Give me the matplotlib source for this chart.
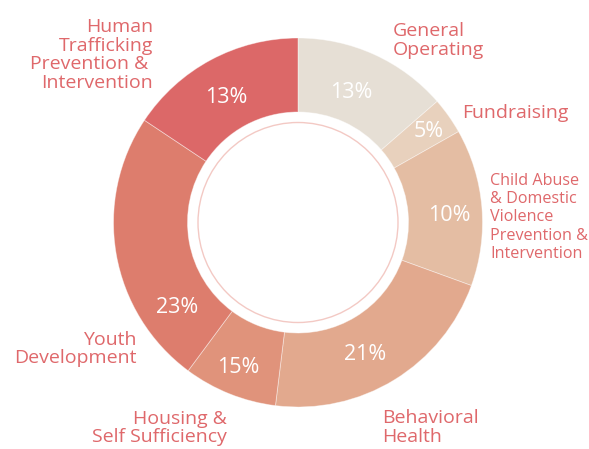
import numpy as np
import matplotlib
matplotlib.use("Agg")
import matplotlib.pyplot as plt
from matplotlib.patches import Circle

# ---- data ----
categories = [
    "General\nOperating",
    "Fundraising",
    "Child Abuse\n& Domestic\nViolence\nPrevention &\nIntervention",
    "Behavioral\nHealth",
    "Housing &\nSelf Sufficiency",
    "Youth\nDevelopment",
    "Human\nTrafficking\nPrevention & \nIntervention",
]
# slice sizes as drawn (share of the ring, %)
shares = [13.6, 3.2, 13.75, 21.4, 8.2, 24.2, 15.65]
# percentages as printed on the slices
pct_labels = ["13%", "5%", "10%", "21%", "15%", "23%", "13%"]
colors = ["#e6dfd5", "#e8d1bd", "#e4bda3", "#e2a98e", "#e0937b", "#dd7d6d", "#dc6868"]

# ---- layout ----
W, H = 589, 449
CX, CY, R = 298, 222.5, 184.5   # pixel centre / radius
INNER = 110.5 / R
RING = 100 / R

def px(x, y):
    return (x - CX) / R, (CY - y) / R

plt.rcParams["font.family"] = ["Open Sans", "DejaVu Sans"]
fig = plt.figure(figsize=(W / 100, H / 100), dpi=100)
ax = fig.add_axes([0, 0, 1, 1])

wedges, _ = ax.pie(
    shares, colors=colors, startangle=90, counterclock=False, radius=1,
    wedgeprops=dict(width=1 - INNER, edgecolor=(1, 1, 1, 0.45), linewidth=0.6),
)
ax.set_xlim(-CX / R, (W - CX) / R)
ax.set_ylim(-(H - CY) / R, CY / R)
ax.set_aspect("equal")
ax.axis("off")

ax.add_patch(Circle((0, 0), RING, fill=False, edgecolor="#f3c9c4", linewidth=1.0))

# percent labels: at wedge mid-angle, with per-label radius / angle nudge
pct_r = [0.76, 0.86, 0.82, 0.80, 0.85, 0.80, 0.78]
pct_da = [2.3, -0.5, -2.0, -4.5, -0.5, 25.4, 1.8]
for w, t, r, da in zip(wedges, pct_labels, pct_r, pct_da):
    ang = np.deg2rad((w.theta1 + w.theta2) / 2 + da)
    ax.text(r * np.cos(ang), r * np.sin(ang), t, color="white", fontsize=15.5,
            ha="center", va="center")

# category labels (last-line baseline anchors in pixels)
lab_col = "#df686b"
lab_pos = [(393, 55, "left"), (462, 118, "left"), (490, 258, "left"),
           (382, 442, "left"), (227, 442, "right"), (137, 363, "right"),
           (153, 88, "right")]
lab_size = [14, 14, 11.6, 14, 14, 14, 14]
lab_ls = [1.08, 1.0, 1.19, 1.08, 1.03, 1.03, 1.05]
for t, (x, y, ha), fs, ls in zip(categories, lab_pos, lab_size, lab_ls):
    xx, yy = px(x, y)
    ax.text(xx, yy, t, color=lab_col, fontsize=fs, ha=ha, va="baseline",
            multialignment=ha, linespacing=ls)

fig.savefig("out.png", dpi=100)
